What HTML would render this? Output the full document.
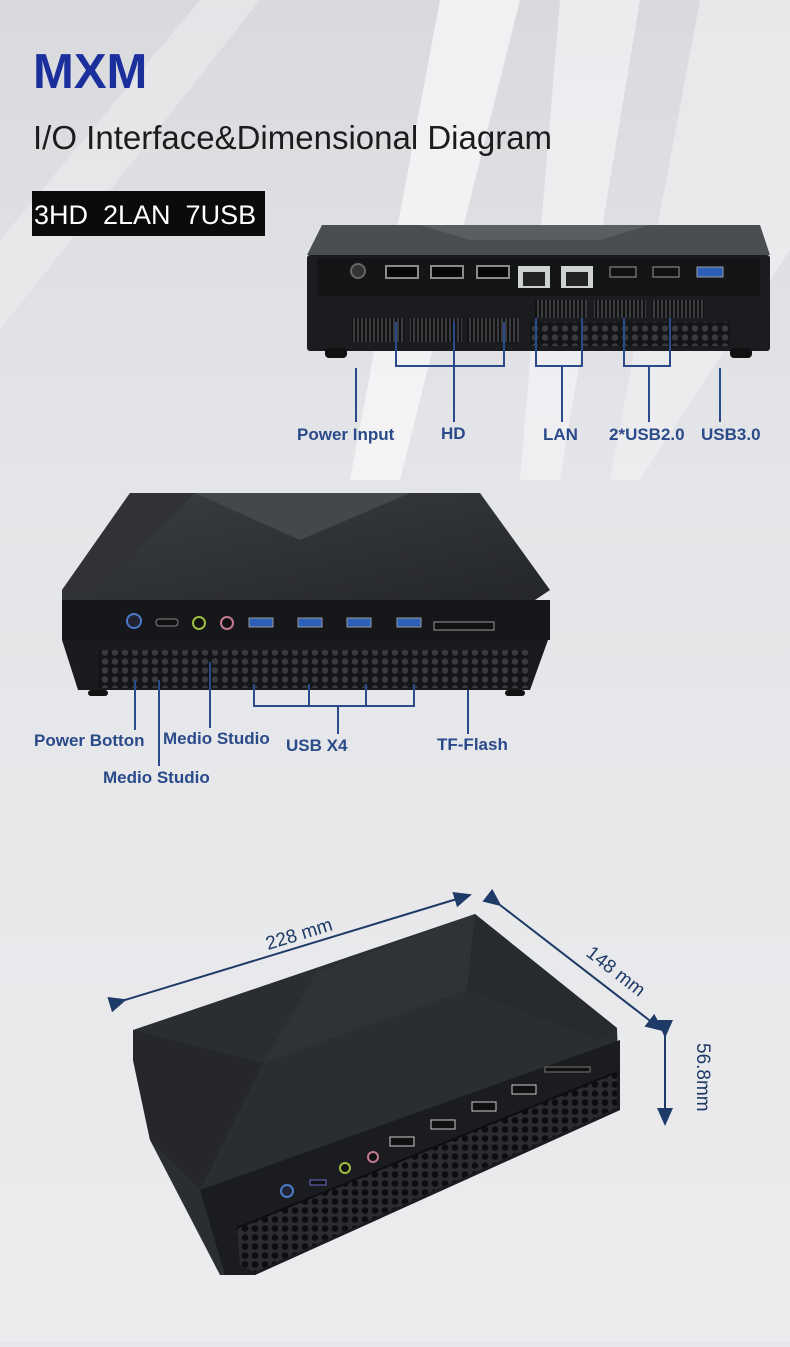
<!DOCTYPE html>
<html><head><meta charset="utf-8"><style>
html,body{margin:0;padding:0;}
body{width:790px;height:1342px;overflow:hidden;background:#e6e7ea;font-family:"Liberation Sans",sans-serif;}
</style></head><body>
<svg width="790" height="1342" viewBox="0 0 790 1342" xmlns="http://www.w3.org/2000/svg">
<defs>
<linearGradient id="bg" x1="0" y1="0" x2="0" y2="1">
<stop offset="0" stop-color="#d9dadd"/><stop offset="0.35" stop-color="#e4e5e8"/><stop offset="1" stop-color="#ececee"/></linearGradient>
<linearGradient id="top" x1="0" y1="0" x2="1" y2="1">
<stop offset="0" stop-color="#3a3d42"/><stop offset="1" stop-color="#24262a"/></linearGradient>
<pattern id="holes" width="10" height="9" patternUnits="userSpaceOnUse">
<rect width="10" height="9" fill="#141517"/><circle cx="5" cy="4.5" r="3.2" fill="#3a3b3e"/></pattern>
<pattern id="holes2" width="10" height="9" patternUnits="userSpaceOnUse">
<rect width="10" height="9" fill="#2a2c30"/><circle cx="5" cy="4.5" r="3.3" fill="#0c0d0e"/></pattern>
<pattern id="slots" width="4" height="10" patternUnits="userSpaceOnUse">
<rect width="4" height="10" fill="#111"/><rect x="1" width="2" height="10" fill="#3b3c3f"/></pattern>
<marker id="ah" markerWidth="10" markerHeight="10" refX="8" refY="5" orient="auto"><path d="M0,1 L9,5 L0,9 Z" fill="#1e3a66"/></marker>
</defs>
<rect width="790" height="1342" fill="url(#bg)"/>
<polygon points="440,0 520,0 400,480 350,480" fill="#f6f6f8" opacity="0.8"/>
<polygon points="560,0 640,0 560,480 520,480" fill="#f4f4f6" opacity="0.7"/>
<polygon points="700,0 790,0 790,250 640,480 610,480" fill="#f2f2f4" opacity="0.6"/>
<polygon points="0,240 200,0 260,0 0,330" fill="#f0f0f2" opacity="0.5"/>

<text x="33" y="88" font-size="49" font-weight="bold" fill="#1b2f9c">MXM</text>
<text x="33" y="149" font-size="33" fill="#1c1c1c">I/O Interface&amp;Dimensional Diagram</text>
<rect x="32" y="191" width="233" height="45" fill="#0b0b0b"/>
<text x="34" y="224" font-size="27" fill="#fff" xml:space="preserve">3HD  2LAN  7USB</text>

<!-- device 1 -->
<polygon points="322,225 760,225 770,255 307,255" fill="#4a4d52"/>
<polygon points="420,225 650,225 600,240 470,240" fill="#5a5d62"/>
<rect x="307" y="255" width="463" height="96" rx="3" fill="#1b1c1f"/>
<rect x="317" y="258" width="443" height="38" fill="#141517"/>
<circle cx="358" cy="271" r="7" fill="#333" stroke="#666" stroke-width="2"/>
<g fill="#070707" stroke="#8a8a8a" stroke-width="2">
<rect x="386" y="266" width="32" height="12"/><rect x="431" y="266" width="32" height="12"/><rect x="477" y="266" width="32" height="12"/>
</g>
<rect x="518" y="266" width="32" height="22" fill="#cfd2d2"/><rect x="523" y="272" width="22" height="14" fill="#222"/>
<rect x="561" y="266" width="32" height="22" fill="#cfd2d2"/><rect x="566" y="272" width="22" height="14" fill="#222"/>
<rect x="610" y="267" width="26" height="10" fill="#111" stroke="#999"/>
<rect x="653" y="267" width="26" height="10" fill="#111" stroke="#999"/>
<rect x="697" y="267" width="26" height="10" fill="#2b5fb8" stroke="#999"/>
<rect x="352" y="318" width="52" height="24" fill="url(#slots)"/>
<rect x="410" y="318" width="52" height="24" fill="url(#slots)"/>
<rect x="467" y="318" width="52" height="24" fill="url(#slots)"/>
<rect x="535" y="300" width="52" height="18" fill="url(#slots)"/>
<rect x="594" y="300" width="52" height="18" fill="url(#slots)"/>
<rect x="652" y="300" width="52" height="18" fill="url(#slots)"/>
<rect x="530" y="322" width="200" height="24" fill="url(#holes)"/>
<rect x="325" y="348" width="22" height="10" rx="4" fill="#111"/><rect x="730" y="348" width="22" height="10" rx="4" fill="#111"/>
<g stroke="#2a4a8a" stroke-width="2" fill="none">
<line x1="356" y1="368" x2="356" y2="422"/>
<polyline points="396,322 396,366 504,366 504,322"/><line x1="454" y1="322" x2="454" y2="422"/>
<polyline points="536,318 536,366 582,366 582,318"/><line x1="562" y1="366" x2="562" y2="422"/>
<polyline points="624,318 624,366 670,366 670,318"/><line x1="649" y1="366" x2="649" y2="422"/>
<line x1="720" y1="368" x2="720" y2="422"/>
</g>
<g font-size="17" font-weight="bold" fill="#2a4a8a">
<text x="297" y="440">Power Input</text><text x="441" y="439">HD</text><text x="543" y="440">LAN</text>
<text x="609" y="440">2*USB2.0</text><text x="701" y="440">USB3.0</text></g>

<!-- device 2 -->
<polygon points="130,493 480,493 550,590 535,600 62,600 62,590" fill="url(#top)"/>
<polygon points="195,493 410,493 300,540" fill="#44474c"/>
<polygon points="62,590 130,493 195,493 90,600" fill="#303236"/>
<rect x="62" y="600" width="488" height="40" fill="#16171a"/>
<polygon points="62,640 548,640 530,690 78,690" fill="#1a1b1e"/>
<rect x="98" y="650" width="430" height="38" fill="url(#holes)"/>
<circle cx="134" cy="621" r="7" fill="#223" stroke="#4a7ac8" stroke-width="2"/>
<rect x="156" y="619" width="22" height="7" rx="3" fill="#111" stroke="#888"/>
<circle cx="199" cy="623" r="6" fill="#111" stroke="#9bc040" stroke-width="2"/>
<circle cx="227" cy="623" r="6" fill="#111" stroke="#c47a90" stroke-width="2"/>
<g fill="#2b5fb8" stroke="#999"><rect x="249" y="618" width="24" height="9"/><rect x="298" y="618" width="24" height="9"/><rect x="347" y="618" width="24" height="9"/><rect x="397" y="618" width="24" height="9"/></g>
<rect x="434" y="622" width="60" height="8" fill="#111" stroke="#999"/>
<rect x="88" y="690" width="20" height="6" rx="3" fill="#111"/><rect x="505" y="690" width="20" height="6" rx="3" fill="#111"/>
<g stroke="#2a4a8a" stroke-width="2" fill="none">
<line x1="135" y1="680" x2="135" y2="730"/><line x1="159" y1="680" x2="159" y2="766"/>
<line x1="210" y1="662" x2="210" y2="728"/>
<polyline points="254,684 254,706 414,706 414,684"/><line x1="309" y1="684" x2="309" y2="706"/><line x1="366" y1="684" x2="366" y2="706"/><line x1="338" y1="706" x2="338" y2="734"/>
<line x1="468" y1="690" x2="468" y2="734"/>
</g>
<g font-size="17" font-weight="bold" fill="#2a4a8a">
<text x="34" y="746">Power Botton</text><text x="163" y="744">Medio Studio</text><text x="286" y="751">USB X4</text>
<text x="437" y="750">TF-Flash</text><text x="103" y="783">Medio Studio</text></g>

<!-- device 3 -->
<polygon points="133,1030 475,914 617,1028 620,1110 255,1275 220,1275 150,1140 133,1060" fill="#2a2d32"/>
<polygon points="133,1030 263,1063 200,1190 150,1140 133,1060" fill="#25272b"/>
<polygon points="263,1063 317,972 475,914 467,990" fill="#2f3237"/>
<polygon points="467,990 475,914 617,1028 600,1040" fill="#272a2e"/>
<polygon points="200,1190 620,1040 620,1110 255,1275 225,1275" fill="#1b1c1f"/>
<polygon points="237,1228 617,1072 617,1108 255,1272 240,1265" fill="url(#holes2)"/>
<line x1="237" y1="1228" x2="617" y2="1072" stroke="#0d0e10" stroke-width="2"/>
<circle cx="287" cy="1191" r="6" fill="#223" stroke="#4a7ac8" stroke-width="2"/>
<rect x="310" y="1180" width="16" height="5" fill="#111" stroke="#6a6ad0"/>
<circle cx="345" cy="1168" r="5" fill="#111" stroke="#9bc040" stroke-width="2"/>
<circle cx="373" cy="1157" r="5" fill="#111" stroke="#c47a90" stroke-width="2"/>
<g fill="#111" stroke="#ccc"><rect x="390" y="1137" width="24" height="9"/><rect x="431" y="1120" width="24" height="9"/><rect x="472" y="1102" width="24" height="9"/><rect x="512" y="1085" width="24" height="9"/></g>
<rect x="545" y="1067" width="45" height="5" fill="#111" stroke="#777"/>
<g stroke="#1e3a66" stroke-width="2" marker-end="url(#ah)" marker-start="url(#ah)">
<line x1="125" y1="1000" x2="470" y2="895"/>
<line x1="500" y1="905" x2="662" y2="1030"/>
<line x1="665" y1="1036" x2="665" y2="1124"/>
</g>
<text x="0" y="0" font-size="19" fill="#1e3a66" transform="translate(268,950) rotate(-17)">228 mm</text>
<text x="0" y="0" font-size="19" fill="#1e3a66" transform="translate(585,955) rotate(38)">148 mm</text>
<text x="0" y="0" font-size="19" fill="#1e3a66" transform="translate(697,1043) rotate(90)">56.8mm</text>
</svg>
</body></html>
